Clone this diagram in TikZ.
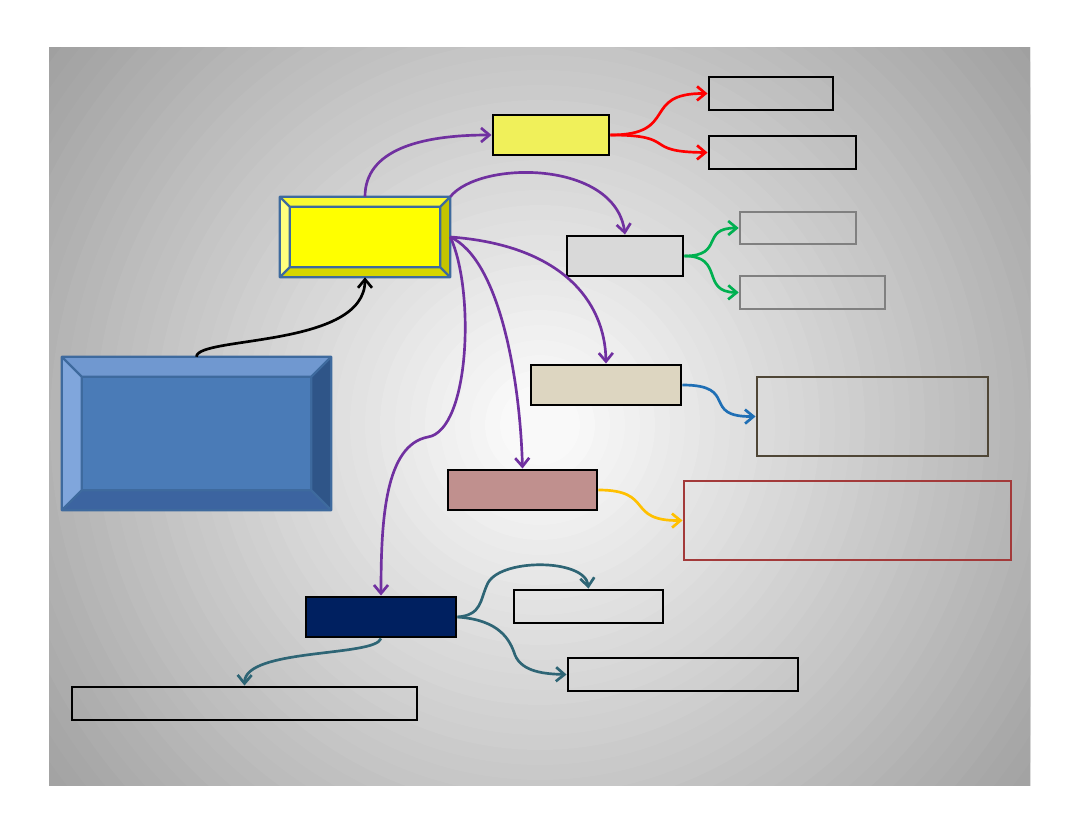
\documentclass[tikz,border=0pt]{standalone}
\usepackage{tikz}
\usetikzlibrary{fit,calc,arrows.meta}

\definecolor{lineblue}{RGB}{62,106,158}
\definecolor{purp}{RGB}{112,48,160}
\definecolor{teal2}{RGB}{46,101,117}
\definecolor{linkblue}{RGB}{31,111,181}
\definecolor{gold}{RGB}{255,192,0}
\definecolor{gren}{RGB}{0,176,80}
\definecolor{yelfill}{RGB}{240,240,90}
\definecolor{beigefill}{RGB}{221,214,193}
\definecolor{rosefill}{RGB}{192,144,142}
\definecolor{navyfill}{RGB}{0,32,96}
\definecolor{brownline}{RGB}{79,70,54}
\definecolor{redline}{RGB}{163,58,58}
% bevel facets
\definecolor{ymid}{RGB}{255,255,0}
\definecolor{ytop}{RGB}{250,250,50}
\definecolor{yleft}{RGB}{255,255,125}
\definecolor{yright}{RGB}{196,196,0}
\definecolor{ybot}{RGB}{214,214,0}
\definecolor{bmid}{RGB}{74,123,183}
\definecolor{btop}{RGB}{112,152,208}
\definecolor{bleft}{RGB}{128,166,220}
\definecolor{bright}{RGB}{47,85,136}
\definecolor{bbot}{RGB}{60,100,160}

\tikzset{
    box/.style={draw=black, line width=2.1pt, inner sep=0pt},
    greybox/.style={draw=black!50, line width=1.8pt, inner sep=0pt},
    bevel/.style={inner sep=0pt},
    link/.style={line width=1.9pt, -{Straight Barb[length=6pt,width=10pt]}},
}

% top, left, right, bottom facet of a bevelled node
\newcommand{\bevelbox}[6]{%
    \fill[#3] (#1.north west) -- (#1.north east) -- ($(#1.north east)+(-#2,#2)$) -- ($(#1.north west)+(#2,#2)$) -- cycle;
    \fill[#4] (#1.north west) -- (#1.south west) -- ($(#1.south west)+(#2,-#2)$) -- ($(#1.north west)+(#2,#2)$) -- cycle;
    \fill[#5] (#1.north east) -- (#1.south east) -- ($(#1.south east)+(-#2,-#2)$) -- ($(#1.north east)+(-#2,#2)$) -- cycle;
    \fill[#6] (#1.south west) -- (#1.south east) -- ($(#1.south east)+(-#2,-#2)$) -- ($(#1.south west)+(#2,-#2)$) -- cycle;
    \draw[lineblue, line width=1.6pt, line join=round]
        (#1.north west) rectangle (#1.south east)
        ($(#1.north west)+(#2,#2)$) rectangle ($(#1.south east)+(-#2,-#2)$)
        (#1.north west) -- ++(#2,#2) (#1.north east) -- ++(-#2,#2)
        (#1.south west) -- ++(#2,-#2) (#1.south east) -- ++(-#2,-#2);
}

\begin{document}
\begin{tikzpicture}[x=0.025cm, y=-0.025cm]

    \def\cx{540}
    \def\cy{425}

    % Slide background
    \fill[white] (0,0) rectangle (1079,834);
    \useasboundingbox (0,0) rectangle (1079,834);
    \begin{scope}
        \clip (49,48) rectangle (1030,785);
        \foreach \r [evaluate=\r as \p using {\r*0.0594}] in {640,625,...,40}
            \fill[black!\p] (\cx,\cy) circle ({\r*0.025cm});
    \end{scope}

    % Bevelled nodes
    \node[bevel, fill=ymid, fit={(280,197) (450,277)}] (main) {};
    \bevelbox{main}{10}{ytop}{yleft}{yright}{ybot}
    \node[bevel, fill=bmid, fit={(62,357) (331,510)}] (source) {};
    \bevelbox{source}{20}{btop}{bleft}{bright}{bbot}

    % Boxes
    \node[box, fill=yelfill, fit={(493,115) (609,155)}] (yel) {};
    \node[box, fit={(709,77) (833,110)}] (topA) {};
    \node[box, fit={(709,136) (856,169)}] (topB) {};
    \node[box, fill=black!15, fit={(567,236) (683,276)}] (grey) {};
    \node[greybox, fit={(740,212) (856,244)}] (greyA) {};
    \node[greybox, fit={(740,276) (885,309)}] (greyB) {};
    \node[box, fill=beigefill, fit={(531,365) (681,405)}] (beige) {};
    \node[box, draw=brownline, fit={(757,377) (988,456)}] (beigeR) {};
    \node[box, fill=rosefill, fit={(448,470) (597,510)}] (rose) {};
    \node[box, draw=redline, fit={(684,481) (1011,560)}] (roseR) {};
    \node[box, fill=navyfill, fit={(306,597) (456,637)}] (navy) {};
    \node[box, fit={(514,590) (663,623)}] (navyA) {};
    \node[box, fit={(568,658) (798,691)}] (navyB) {};
    \node[box, fit={(72,687) (417,720)}] (navyC) {};

    \coordinate (bend) at (428,437);

    % Connectors
    \draw[link, black] (source.north) .. controls (197,336) and (365,348) .. (main.south);

    \draw[link, purp] (main.north) .. controls (365,150) and (420,135) .. (yel.west);
    \draw[link, purp] (main.north east) .. controls (480,160) and (615,160) .. (grey.north);
    \draw[link, purp] (main.east) .. controls (560,245) and (605,300) .. (beige.north);
    \draw[link, purp] (main.east) .. controls (500,260) and (520,380) .. (rose.north);
    \draw[link, purp] (main.east) .. controls (475,290) and (470,430) .. (bend)
        .. controls (385,445) and (381,520) .. (navy.north);

    \draw[link, red] (yel.east) .. controls (680,135) and (640,93) .. (topA.west);
    \draw[link, red] (yel.east) .. controls (680,135) and (640,152) .. (topB.west);

    \draw[link, gren] (grey.east) .. controls (725,256) and (700,228) .. (greyA.west);
    \draw[link, gren] (grey.east) .. controls (725,256) and (700,292) .. (greyB.west);

    \draw[link, linkblue] (beige.east) .. controls (740,385) and (700,417) .. (beigeR.west);
    \draw[link, gold] (rose.east) .. controls (655,490) and (625,521) .. (roseR.west);

    \draw[link, teal2] (navy.east) .. controls (482,615) and (480,600) .. (487,585)
        .. controls (497,558) and (585,558) .. (navyA.north);
    \draw[link, teal2] (navy.east) .. controls (500,620) and (510,640) .. (515,655)
        .. controls (522,672) and (545,674) .. (navyB.west);
    \draw[link, teal2] (navy.south) .. controls (375,657) and (245,648) .. (navyC.north);

\end{tikzpicture}
\end{document}
